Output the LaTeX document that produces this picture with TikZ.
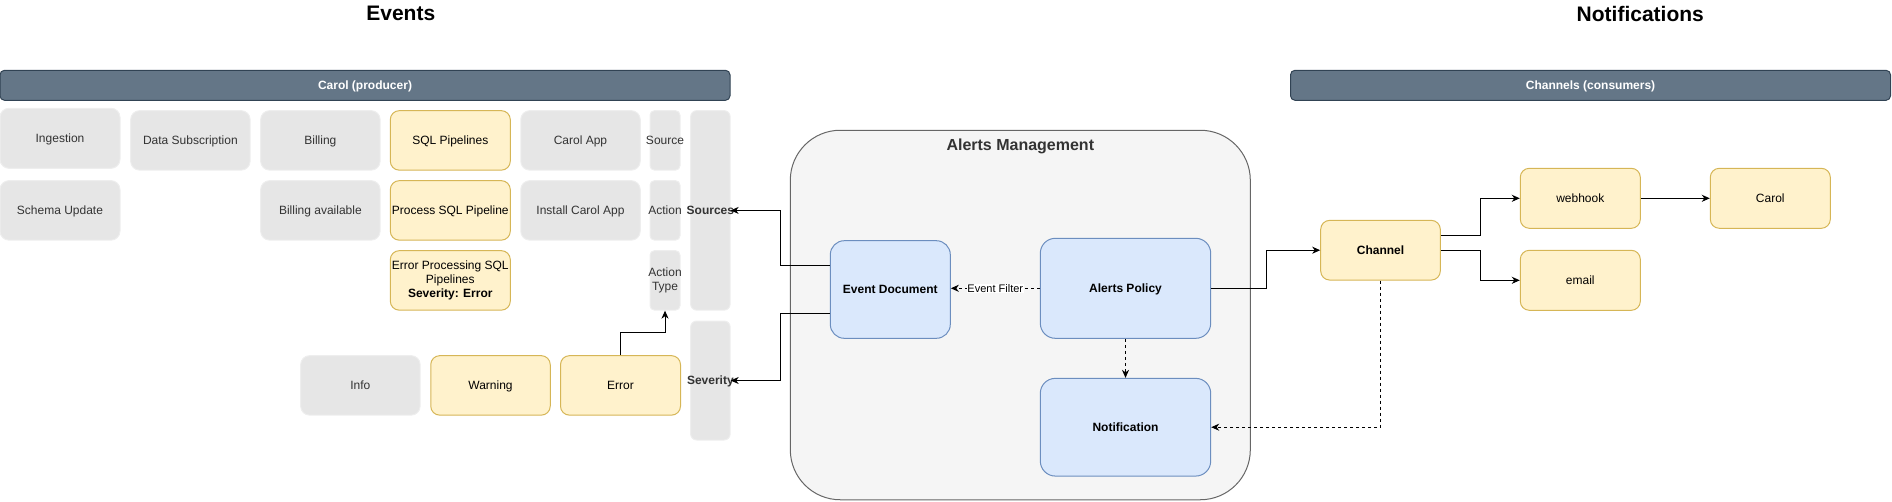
\documentclass[tikz,border=0pt]{standalone}
\usepackage{fontspec}
\setmainfont{Liberation Sans}
\usetikzlibrary{arrows.meta,calc}
\definecolor{barf}{HTML}{647687}
\definecolor{bard}{HTML}{314354}
\definecolor{grayf}{HTML}{E6E6E6}
\definecolor{grayd}{HTML}{EEEEEE}
\definecolor{txtgray}{HTML}{333333}
\definecolor{yelf}{HTML}{FFF2CC}
\definecolor{yeld}{HTML}{D6B656}
\definecolor{bluef}{HTML}{DAE8FC}
\definecolor{blued}{HTML}{6C8EBF}
\definecolor{contf}{HTML}{F5F5F5}
\definecolor{contd}{HTML}{666666}
\tikzset{
  f12/.style={font=\fontsize{12}{14.4}\selectfont},
  f12b/.style={font=\fontsize{12}{14.4}\selectfont\bfseries},
  box/.style={rounded corners=9pt, inner sep=0pt, line width=1pt, f12,
              text height=9pt, text depth=0.7pt},
  multi/.style={text height=, text depth=, align=center},
  wh/.style 2 args={minimum width=#1, minimum height=#2},
  grayb/.style={box, fill=grayf, draw=grayd, text=txtgray},
  yelb/.style={box, fill=yelf, draw=yeld, text=black},
  blueb/.style={box, fill=bluef, draw=blued, text=black, f12b, rounded corners=14pt},
  bar/.style={rounded corners=4.5pt, inner sep=0pt, line width=1pt, fill=barf,
              draw=bard, text=white, f12b, text height=9pt, text depth=0.7pt},
  lbl/.style={inner sep=0pt, text=txtgray, f12, text height=9pt, text depth=0.7pt},
  lblb/.style={lbl, f12b},
  ttl/.style={font=\fontsize{21}{25}\selectfont\bfseries, inner sep=0pt},
  arr/.style={line width=1pt, draw=black, -{Stealth[length=8pt,width=7pt,inset=2.5pt]}},
  dsh/.style={arr, dash pattern=on 3pt off 3pt},
}
\begin{document}
\begin{tikzpicture}[x=1pt,y=-1pt]
\useasboundingbox (0,0) rectangle (1892,501);

% titles
\node[ttl] (tev) at (400.8,13.5) {Events};
\node[ttl] (tno) at (1640.3,13.5) {Notifications};

% bars
\node[bar, wh={730pt}{30pt}] (prod) at (365,85.3) {Carol (producer)};
\node[bar, wh={600pt}{30pt}] (cons) at (1590.5,85.3) {Channels (consumers)};

% producer boxes, row 1
\node[grayb, wh={120pt}{60pt}] (ing) at (60,138.3) {Ingestion};
\node[grayb, wh={119.5pt}{59.5pt}] (dsub) at (190.4,140.4) {Data Subscription};
\node[grayb, wh={119.5pt}{59.5pt}] (bill) at (320.4,140.4) {Billing};
\node[yelb, wh={120pt}{59.5pt}] (sqlp) at (450.3,140.4) {SQL Pipelines};
\node[grayb, wh={119.5pt}{59.5pt}] (capp) at (580.5,140.4) {Carol App};
\node[grayb, wh={30pt}{59.5pt}, rounded corners=4.5pt,
      label={[lbl]center:Source}] (src) at (665,140.4) {};
% tall
\node[grayb, wh={39.5pt}{199.5pt}, rounded corners=6pt,
      label={[lblb]center:Sources}] (srcs) at (710.4,210.4) {};
\node[grayb, wh={39.5pt}{119pt}, rounded corners=6pt,
      label={[lblb]center:Severity}] (sev) at (710.4,380.5) {};

% row 2
\node[grayb, wh={120pt}{59.5pt}] (schema) at (60,210.4) {Schema Update};
\node[grayb, wh={119.5pt}{59.5pt}] (bavail) at (320.4,210.4) {Billing available};
\node[yelb, wh={120pt}{59.5pt}] (psql) at (450.3,210.4) {Process SQL Pipeline};
\node[grayb, wh={119.5pt}{59.5pt}] (iapp) at (580.5,210.4) {Install Carol App};
\node[grayb, wh={30pt}{59.5pt}, rounded corners=4.5pt,
      label={[lbl]center:Action}] (act) at (665,210.4) {};

% row 3
\node[yelb, multi, wh={120pt}{59.5pt}] (eproc) at (450.3,280.4)
  {Error Processing SQL\\Pipelines\\\textbf{Severity: Error}};
\node[grayb, wh={30pt}{59.5pt}, rounded corners=4.5pt,
      label={[lbl, multi]center:Action\\Type}] (atype) at (665,280.4) {};

% severity row
\node[grayb, wh={119.5pt}{59.5pt}] (info) at (360.4,385.4) {Info};
\node[yelb, wh={119.5pt}{59.5pt}] (warn) at (490.5,385.4) {Warning};
\node[yelb, wh={120pt}{59.5pt}] (err) at (620.5,385.4) {Error};

% alerts management container
\node[draw=contd, fill=contf, line width=1pt, rounded corners=50pt, inner sep=0pt,
      wh={460pt}{369.5pt}] (am) at (1020.3,315) {};
\node[font=\fontsize{16}{19}\selectfont\bfseries, text=txtgray, inner sep=0pt] (amt)
  at (1020.3,146.5) {Alerts Management};

\node[blueb, wh={120pt}{97.6pt}] (ed) at (890.3,289.5) {Event Document};
\node[blueb, wh={170.4pt}{100pt}, rounded corners=15pt] (ap) at (1125.5,288.3) {Alerts Policy};
\node[blueb, wh={170.4pt}{97.7pt}, rounded corners=15pt] (nt) at (1125.5,427.2) {Notification};

% consumers
\node[yelb, wh={119.6pt}{59.7pt}, f12b] (ch) at (1380.5,250.2) {Channel};
\node[yelb, wh={120pt}{60pt}] (wh) at (1580.3,198.3) {webhook};
\node[yelb, wh={120pt}{60pt}] (em) at (1580.3,280.3) {email};
\node[yelb, wh={120pt}{60pt}] (carol) at (1770.3,198.3) {Carol};

% connectors
\draw[arr] ([yshift=24.5pt]ed.west) -- ++(-49.6,0) |- (srcs.east);
\draw[arr] ([yshift=-24.2pt]ed.west) -- ++(-49.6,0) |- (sev.east);
\draw[dsh] (ap.west) -- (ap.west -| ed.east)
  node[midway, fill=white, inner sep=0.5pt, font=\fontsize{11}{13}\selectfont] {Event Filter};
\draw[dsh] (ap.south) -- (nt.north);
\draw[arr] (ap.east) -- ++(55,0) |- (ch.west);
\draw[dsh] (ch.south) |- (nt.east);
\draw[arr] ([yshift=14.9pt]ch.east) -- ++(40,0) |- (wh.west);
\draw[arr] (ch.east) -- ++(40,0) |- (em.west);
\draw[arr] (wh.east) -- (carol.west);
\draw[arr] (err.north) -- ++(0,-22.6) -| (atype.south);
\end{tikzpicture}
\end{document}
